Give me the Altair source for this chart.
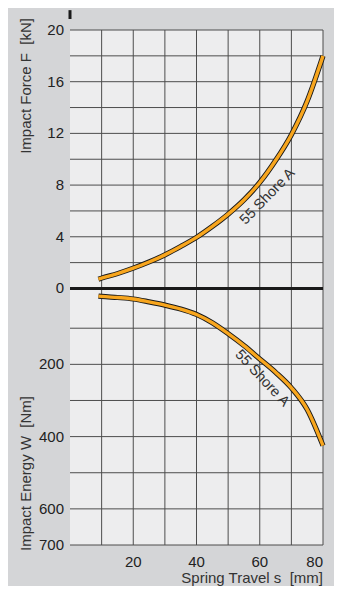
import altair as alt
import pandas as pd

# Data
travel = [9, 10, 15, 20, 25, 30, 35, 40, 45, 50, 55, 60, 65, 70, 75, 80]          # s [mm]
force = [0.72, 0.8, 1.15, 1.57, 2.05, 2.6, 3.25, 3.95, 4.8, 5.75, 6.85, 8.2, 9.9, 11.9, 14.5, 18.0]  # F [kN]
energy = [11, 12, 15, 19, 27, 36, 47, 62, 85, 115, 148, 185, 222, 265, 325, 425]  # W [Nm]

x_grid = [10, 20, 30, 40, 50, 60, 70, 80]
x_labels = [20, 40, 60]
x_label_last = [80]
force_ticks = [0, 2, 4, 6, 8, 10, 12, 14, 16, 18, 20]
force_labels = [0, 4, 8, 12, 16, 20]
energy_ticks = [100, 200, 300, 400, 500, 600, 700]
energy_labels = [200, 400, 600, 700]

curve_label = "55 Shore A"
title_force = "Impact Force F\u00a0 [kN]"
title_energy = "Impact Energy W\u00a0 [Nm]"
title_travel = "Spring Travel s\u00a0 [mm]"

# The energy half hangs below the force half on one shared vertical scale (kN units):
# y = -(E_OFF + E_K * W)
E_OFF = 0.28
E_K = 0.027957
Y_MIN = -(E_OFF + E_K * 700)
E_CALC = f"-({E_OFF} + {E_K} * datum.W)"

FONT = "Liberation Sans"
GRID = "#4d4d4d"
BLACK = "#1a1a1a"
ORANGE = "#f8a61e"
TXT = "#333333"
LBL = "#222222"

x_scale = alt.Scale(domain=[0, 80], nice=False)
y_scale = alt.Scale(domain=[Y_MIN, 20], nice=False, zero=False)
X = alt.X("s:Q", scale=x_scale, axis=None)
Y = alt.Y("y:Q", scale=y_scale, axis=None)

# grid
grid_x = alt.Chart(pd.DataFrame({"s": x_grid})).mark_rule(
    color=GRID, strokeWidth=1).encode(x=X)
grid_f = alt.Chart(pd.DataFrame({"y": force_ticks})).mark_rule(
    color=GRID, strokeWidth=1).encode(y=Y)
grid_w = alt.Chart(pd.DataFrame({"W": energy_ticks})).transform_calculate(y=E_CALC).mark_rule(
    color=GRID, strokeWidth=1).encode(y=Y)

# curves
force_c = alt.Chart(pd.DataFrame({"s": travel, "F": force})).transform_calculate(y="datum.F")
energy_c = alt.Chart(pd.DataFrame({"s": travel, "W": energy})).transform_calculate(y=E_CALC)
curves = []
for base in (force_c, energy_c):
    curves.append(base.mark_line(color=BLACK, strokeWidth=5.2, interpolate="monotone",
                                 strokeCap="butt").encode(x=X, y=Y))
    curves.append(base.mark_line(color=ORANGE, strokeWidth=3.4, interpolate="monotone",
                                 strokeCap="butt").encode(x=X, y=Y))

lab_f = alt.Chart(pd.DataFrame({"s": [62.5], "F": [7.1], "t": [curve_label]})).transform_calculate(
    y="datum.F").mark_text(angle=314, font=FONT, fontSize=14.5, color=TXT).encode(
    x=X, y=Y, text="t:N")
lab_w = alt.Chart(pd.DataFrame({"s": [60.7], "W": [239], "t": [curve_label]})).transform_calculate(
    y=E_CALC).mark_text(angle=47, font=FONT, fontSize=14.5, color=TXT).encode(
    x=X, y=Y, text="t:N")

# heavy axis lines
zero_rule = alt.Chart(pd.DataFrame({"y": [0]})).mark_rule(color=BLACK, strokeWidth=3).encode(y=Y)
left_rule = alt.Chart(pd.DataFrame({"s": [0]})).mark_rule(color=BLACK, strokeWidth=3).encode(
    x=X, y=alt.value(-11), y2=alt.datum(Y_MIN))

# tick labels
tick_f = alt.Chart(pd.DataFrame({"v": force_labels})).transform_calculate(y="datum.v").mark_text(
    align="right", baseline="middle", dx=-6, font=FONT, fontSize=15, color=LBL).encode(
    x=alt.value(0), y=Y, text=alt.Text("v:Q", format="d"))
tick_w = alt.Chart(pd.DataFrame({"W": energy_labels})).transform_calculate(y=E_CALC).mark_text(
    align="right", baseline="middle", dx=-6, font=FONT, fontSize=15, color=LBL).encode(
    x=alt.value(0), y=Y, text=alt.Text("W:Q", format="d"))
tick_x = alt.Chart(pd.DataFrame({"s": x_labels})).mark_text(
    align="center", baseline="middle", dy=17, font=FONT, fontSize=15, color=LBL).encode(
    x=X, y=alt.datum(Y_MIN), text=alt.Text("s:Q", format="d"))
tick_x_last = alt.Chart(pd.DataFrame({"s": x_label_last})).mark_text(
    align="right", baseline="middle", dy=17, font=FONT, fontSize=15, color=LBL).encode(
    x=X, y=alt.datum(Y_MIN), text=alt.Text("s:Q", format="d"))

# axis titles
title_f = alt.Chart(pd.DataFrame({"t": [title_force]})).mark_text(
    angle=270, align="right", baseline="middle", font=FONT, fontSize=15, color=TXT
).encode(x=alt.value(-44), y=alt.value(-12), text="t:N")
title_w = alt.Chart(pd.DataFrame({"t": [title_energy]})).mark_text(
    angle=270, align="left", baseline="middle", font=FONT, fontSize=15, color=TXT, dx=-6
).encode(x=alt.value(-44), y=alt.datum(Y_MIN), text="t:N")
title_s = alt.Chart(pd.DataFrame({"t": [title_travel]})).mark_text(
    align="right", baseline="middle", dy=33, font=FONT, fontSize=15, color=TXT
).encode(x=alt.datum(80), y=alt.datum(Y_MIN), text="t:N")

chart = alt.layer(
    grid_x, grid_f, grid_w, *curves, lab_f, lab_w, zero_rule, left_rule,
    tick_f, tick_w, tick_x, tick_x_last, title_f, title_w, title_s,
).properties(
    width=326, height=578,
    autosize=alt.AutoSizeParams(type="fit", contains="padding"),
    background="#d4d5d7",
    padding={"left": 11, "top": 0, "right": 0, "bottom": 0},
).configure_view(fill="#ededee", strokeWidth=0)

chart.save("out.html", embed_options={"renderer": "svg", "actions": False})
